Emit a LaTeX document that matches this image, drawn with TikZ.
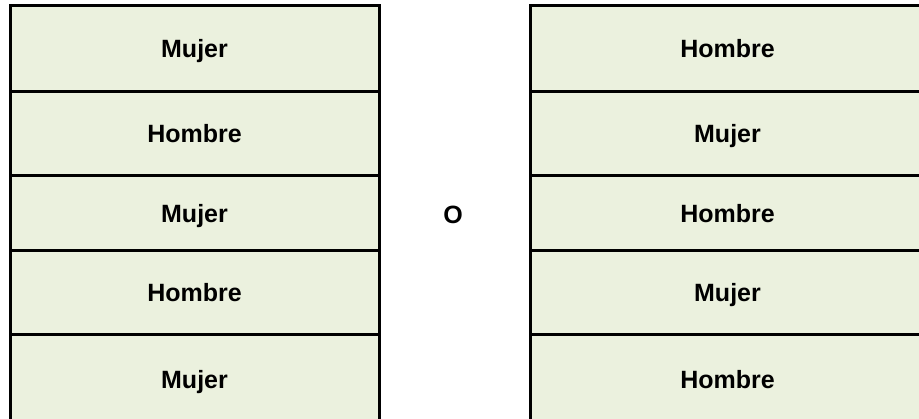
\documentclass[tikz,border=0pt]{standalone}
\usepackage{fontspec}
\setmainfont{Liberation Sans}
\usetikzlibrary{positioning}
\definecolor{cellgreen}{RGB}{235,241,222}
\tikzstyle{cell}  = [rectangle, draw=black, line width=3pt, fill=cellgreen, outer sep=0pt,
                     text centered, text height=18pt, text depth=0pt,
                     font=\fontsize{25}{29}\selectfont\bfseries]
\tikzstyle{leftc} = [cell, minimum width=369pt]
\tikzstyle{rightc}= [cell, minimum width=395pt]

\begin{document}
\begin{tikzpicture}[x=1pt, y=-1pt]
  \useasboundingbox (0,0) rectangle (919,419);
  % left column
  \node (l1) [leftc, minimum height=86pt, anchor=north west] at (10,6) {Mujer};
  \node (l2) [leftc, minimum height=84pt, below=0pt of l1] {Hombre};
  \node (l3) [leftc, minimum height=75pt, below=0pt of l2] {Mujer};
  \node (l4) [leftc, minimum height=84pt, below=0pt of l3] {Hombre};
  \node (l5) [leftc, minimum height=90pt, below=0pt of l4] {Mujer};
  % right column
  \node (r1) [rightc, minimum height=86pt, anchor=north west] at (530,6) {Hombre};
  \node (r2) [rightc, minimum height=84pt, below=0pt of r1] {Mujer};
  \node (r3) [rightc, minimum height=75pt, below=0pt of r2] {Hombre};
  \node (r4) [rightc, minimum height=84pt, below=0pt of r3] {Mujer};
  \node (r5) [rightc, minimum height=90pt, below=0pt of r4] {Hombre};

  \node (or) [font=\fontsize{25}{29}\selectfont\bfseries, text height=18pt, text depth=0pt] at (453,215) {O};
\end{tikzpicture}
\end{document}
